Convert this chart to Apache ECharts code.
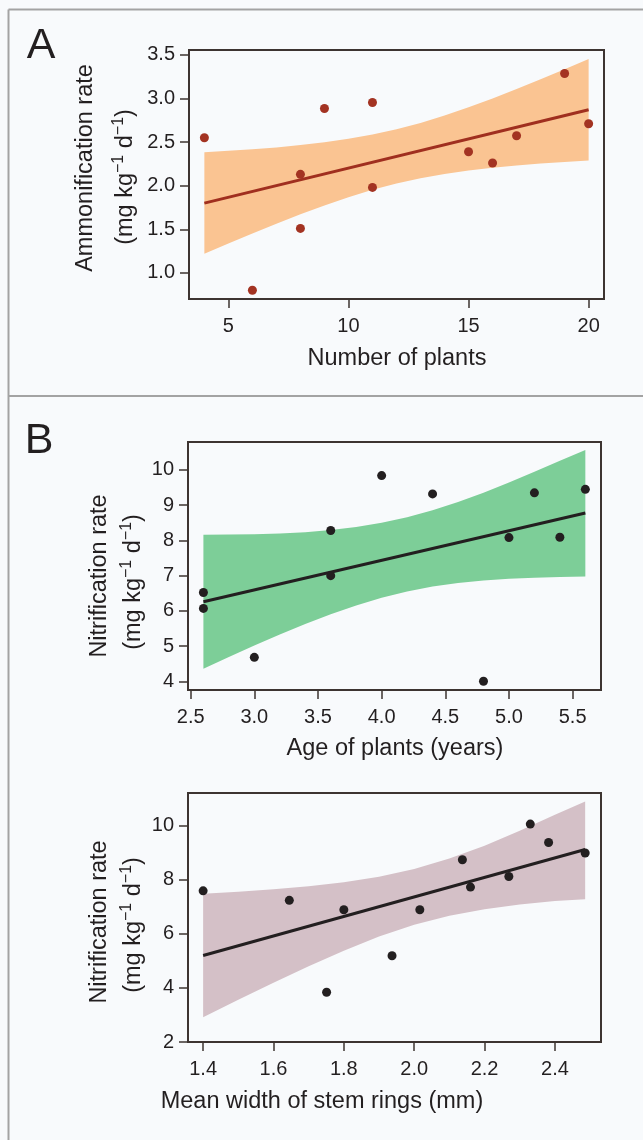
<!DOCTYPE html>
<html><head><meta charset="utf-8">
<script src="https://cdn.jsdelivr.net/npm/echarts@6/dist/echarts.min.js"></script>
<style>html,body{margin:0;padding:0;background:#f8fafc;} #c{width:643px;height:1140px;}</style>
</head><body><div id="c"></div>
<script>
// ---------- Panel A : Ammonification rate vs Number of plants ----------
const aX = [4, 6, 8, 8, 9, 11, 11, 15, 16, 17, 19, 20];
const aY = [2.55, 0.80, 2.13, 1.51, 2.885, 2.954, 1.98, 2.389, 2.26, 2.573, 3.287, 2.71];
const aFitX = [4, 20];
const aFitY = [1.80, 2.87];
const aBandX = [4, 5, 6, 7, 8, 9, 10, 11, 12, 13, 14, 15, 16, 17, 18, 19, 20];
const aBandUpper = [2.384, 2.399, 2.418, 2.439, 2.465, 2.497, 2.537, 2.586, 2.647, 2.720, 2.804, 2.898, 3.000, 3.108, 3.220, 3.336, 3.454];
const aBandLower = [1.218, 1.336, 1.451, 1.563, 1.671, 1.773, 1.867, 1.952, 2.025, 2.085, 2.135, 2.174, 2.206, 2.232, 2.254, 2.272, 2.288];
const aXTicks = [5, 10, 15, 20];
const aYTicks = [1.0, 1.5, 2.0, 2.5, 3.0, 3.5];

// ---------- Panel B (top) : Nitrification rate vs Age of plants ----------
const b1X = [2.6, 2.6, 3.0, 3.6, 3.6, 4.0, 4.4, 4.8, 5.0, 5.2, 5.4, 5.6];
const b1Y = [6.52, 6.07, 4.68, 8.28, 7.0, 9.84, 9.32, 4.0, 8.08, 9.35, 8.09, 9.45];
const b1FitX = [2.6, 5.6];
const b1FitY = [6.26, 8.78];
const b1BandX = [2.6, 2.8, 3.0, 3.2, 3.4, 3.6, 3.8, 4.0, 4.2, 4.4, 4.6, 4.8, 5.0, 5.2, 5.4, 5.6];
const b1BandUpper = [8.164, 8.165, 8.175, 8.197, 8.235, 8.294, 8.381, 8.501, 8.659, 8.856, 9.090, 9.354, 9.642, 9.949, 10.26, 10.57];
const b1BandLower = [4.356, 4.691, 5.017, 5.331, 5.629, 5.906, 6.155, 6.371, 6.549, 6.688, 6.790, 6.862, 6.910, 6.939, 6.960, 6.975];
const b1XTicks = [2.5, 3.0, 3.5, 4.0, 4.5, 5.0, 5.5];
const b1YTicks = [4, 5, 6, 7, 8, 9, 10];

// ---------- Panel B (bottom) : Nitrification rate vs Mean width of stem rings ----------
const b2X = [1.4, 1.645, 1.751, 1.8, 1.937, 2.016, 2.137, 2.16, 2.269, 2.33, 2.382, 2.486];
const b2Y = [7.59, 7.24, 3.84, 6.89, 5.19, 6.89, 8.74, 7.73, 8.12, 10.06, 9.38, 8.99];
const b2FitX = [1.4, 2.486];
const b2FitY = [5.20, 9.12];
const b2BandX = [1.4, 1.5, 1.6, 1.7, 1.8, 1.9, 2.0, 2.1, 2.2, 2.3, 2.4, 2.486];
const b2BandUpper = [7.486, 7.561, 7.650, 7.762, 7.909, 8.112, 8.397, 8.783, 9.262, 9.811, 10.405, 10.90];
const b2BandLower = [2.914, 3.561, 4.194, 4.804, 5.379, 5.898, 6.335, 6.671, 6.914, 7.087, 7.215, 7.28];
const b2XTicks = [1.4, 1.6, 1.8, 2.0, 2.2, 2.4];
const b2YTicks = [2, 4, 6, 8, 10];

// ---------- styling ----------
const FONT = "'Liberation Sans', Arial, Helvetica, sans-serif";
const TXT = '#231f20';
const BOX = '#3d3431';
const FRAME = '#a3a3a3';
const TICK_FS = 20;
const TITLE_FS = 23.5;

function xAxisCfg(gi, min, max, ticks, dec) {
  return {
    gridIndex: gi, type: 'value', min: min, max: max,
    axisLine: { show: false }, splitLine: { show: false },
    axisTick: { show: true, inside: false, length: 9, customValues: ticks, lineStyle: { color: BOX, width: 1.5 } },
    axisLabel: { customValues: ticks, margin: 17, fontSize: TICK_FS, fontFamily: FONT, color: TXT,
      formatter: v => Number(v).toFixed(dec) }
  };
}
function yAxisCfg(gi, min, max, ticks, dec) {
  return {
    gridIndex: gi, type: 'value', min: min, max: max,
    axisLine: { show: false }, splitLine: { show: false },
    axisTick: { show: true, inside: false, length: 9, customValues: ticks, lineStyle: { color: BOX, width: 1.5 } },
    axisLabel: { customValues: ticks, margin: 14, fontSize: TICK_FS, fontFamily: FONT, color: TXT,
      formatter: v => Number(v).toFixed(dec) }
  };
}
function bandSeries(i, xs, up, lo, color) {
  return {
    type: 'custom', xAxisIndex: i, yAxisIndex: i, silent: true, z: 1,
    data: [[xs[0], up[0]]],
    renderItem: (params, api) => {
      const pts = [];
      for (let k = 0; k < xs.length; k++) pts.push(api.coord([xs[k], up[k]]));
      for (let k = xs.length - 1; k >= 0; k--) pts.push(api.coord([xs[k], lo[k]]));
      return { type: 'polygon', shape: { points: pts }, style: { fill: color } };
    }
  };
}
function fitSeries(i, fx, fy, color) {
  return {
    type: 'line', xAxisIndex: i, yAxisIndex: i, z: 2, silent: true,
    symbol: 'none', data: fx.map((x, k) => [x, fy[k]]),
    lineStyle: { color: color, width: 3 }
  };
}
function pointSeries(i, xs, ys, color) {
  return {
    type: 'scatter', xAxisIndex: i, yAxisIndex: i, z: 3, silent: true,
    symbolSize: 9, itemStyle: { color: color, opacity: 1 },
    data: xs.map((x, k) => [x, ys[k]])
  };
}
function gridCfg(left, top, width, height) {
  return { left, top, width, height, show: true, borderColor: BOX, borderWidth: 2, backgroundColor: 'transparent', containLabel: false };
}
function hText(text, x, y, size) {
  return { type: 'text', x, y, silent: true,
    style: { text, fontSize: size, fontFamily: FONT, fill: TXT, align: 'center', verticalAlign: 'middle' } };
}
function vText(text, x, y, size) {
  return { type: 'text', x, y, rotation: Math.PI / 2, silent: true,
    style: { text, fontSize: size, fontFamily: FONT, fill: TXT, align: 'center', verticalAlign: 'middle' } };
}
function vUnitText(x, y) {
  return { type: 'text', x, y, rotation: Math.PI / 2, silent: true,
    style: { text: '(mg kg{s|\u22121} d{s|\u22121})', fontSize: TITLE_FS, lineHeight: 30, fontFamily: FONT, fill: TXT,
      align: 'center', verticalAlign: 'middle',
      rich: { s: { fontSize: 16, lineHeight: 16, verticalAlign: 'top', fontFamily: FONT, fill: TXT } } } };
}
function line(x1, y1, x2, y2) {
  return { type: 'line', silent: true, shape: { x1, y1, x2, y2 }, style: { stroke: FRAME, lineWidth: 2 } };
}

const option = {
  animation: false,
  backgroundColor: '#f8fafc',
  grid: [
    gridCfg(189, 50, 415, 249),
    gridCfg(188, 442, 413, 248),
    gridCfg(188, 793, 413, 249)
  ],
  xAxis: [
    xAxisCfg(0, 3.36, 20.64, aXTicks, 0),
    xAxisCfg(1, 2.479, 5.723, b1XTicks, 1),
    xAxisCfg(2, 1.357, 2.531, b2XTicks, 1)
  ],
  yAxis: [
    yAxisCfg(0, 0.70, 3.556, aYTicks, 1),
    yAxisCfg(1, 3.753, 10.794, b1YTicks, 0),
    yAxisCfg(2, 2, 11.21, b2YTicks, 0)
  ],
  series: [
    bandSeries(0, aBandX, aBandUpper, aBandLower, '#fac492'),
    fitSeries(0, aFitX, aFitY, '#a02f1f'),
    pointSeries(0, aX, aY, '#a33322'),
    bandSeries(1, b1BandX, b1BandUpper, b1BandLower, '#7dce98'),
    fitSeries(1, b1FitX, b1FitY, '#231f20'),
    pointSeries(1, b1X, b1Y, '#231f20'),
    bandSeries(2, b2BandX, b2BandUpper, b2BandLower, '#d4c0c7'),
    fitSeries(2, b2FitX, b2FitY, '#231f20'),
    pointSeries(2, b2X, b2Y, '#231f20')
  ],
  graphic: [
    line(8.5, 9.5, 643, 9.5),
    line(8.5, 9.5, 8.5, 1140),
    line(8.5, 396, 643, 396),
    hText('A', 41, 46, 43),
    hText('B', 39, 441, 43),
    vText('Ammonification rate', 86, 168, TITLE_FS),
    vUnitText(126, 177),
    hText('Number of plants', 397, 359, TITLE_FS),
    vText('Nitrification rate', 100, 576, TITLE_FS),
    vUnitText(134, 582),
    hText('Age of plants (years)', 395, 749, TITLE_FS),
    vText('Nitrification rate', 100, 922, TITLE_FS),
    vUnitText(134, 925),
    hText('Mean width of stem rings (mm)', 322, 1102, TITLE_FS)
  ]
};
const chart = echarts.init(document.getElementById('c'), null, { renderer: 'canvas' });
chart.setOption(option);
</script></body></html>
